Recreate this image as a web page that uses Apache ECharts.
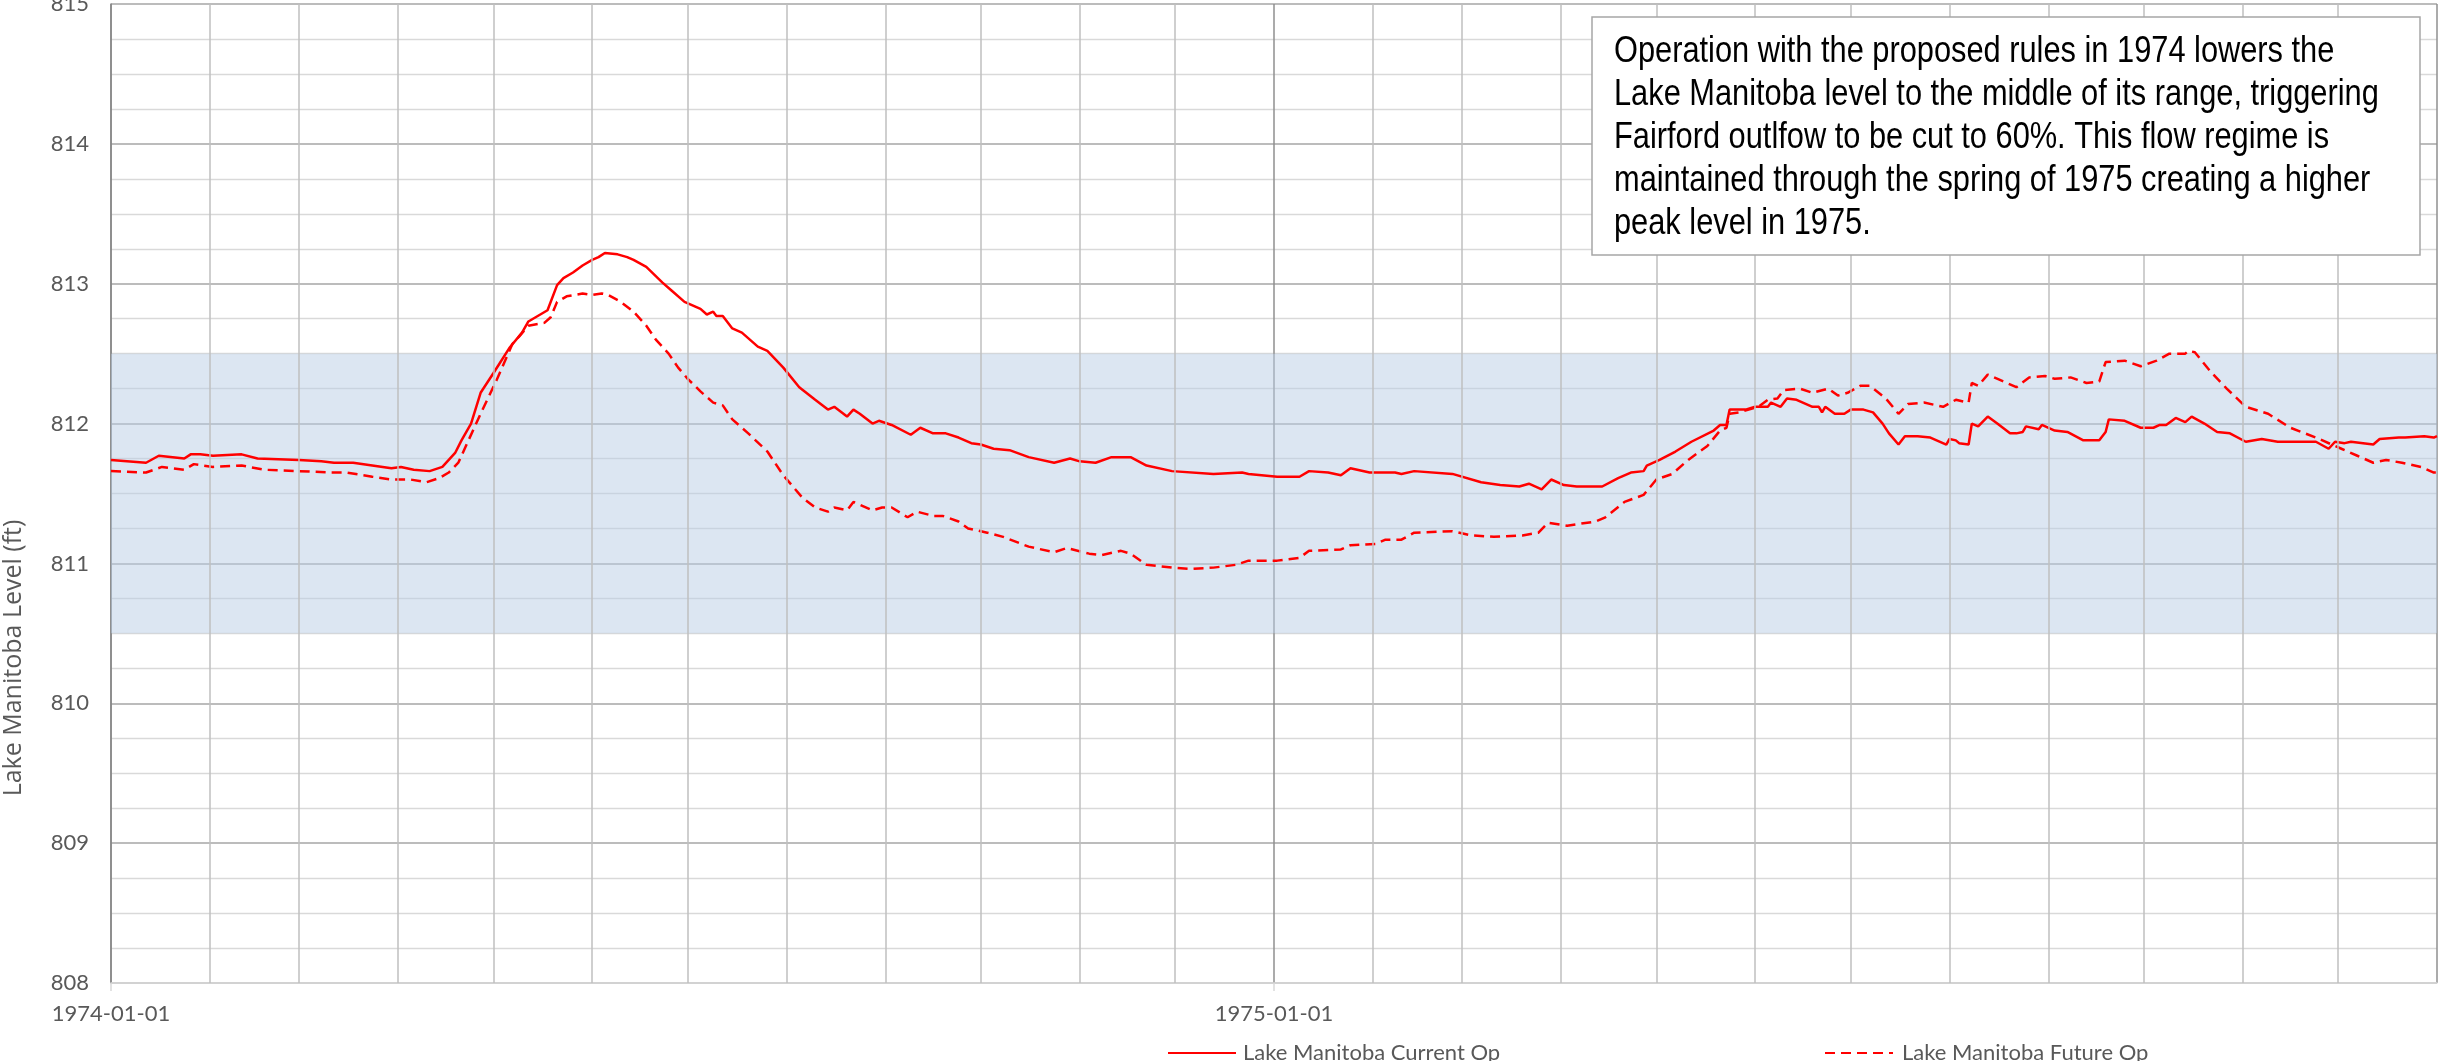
<!DOCTYPE html>
<html>
<head>
<meta charset="utf-8">
<script src="https://cdn.jsdelivr.net/npm/echarts@6/dist/echarts.min.js"></script>
<style>
html,body{margin:0;padding:0;background:#fff;}
#chart{width:2441px;height:1061px;}
</style>
</head>
<body>
<div id="chart"></div>
<script>
// ---- data (x = days since 1974-01-01) ----
const xTickLabels = ['1974-01-01', '1975-01-01', '1976-01-01'];
const monthStartDays = [31, 59, 90, 120, 151, 181, 212, 243, 273, 304, 334,
  396, 424, 455, 485, 516, 546, 577, 608, 638, 669, 699];
const bandRange = [810.5, 812.5];

const currentName = 'Lake Manitoba Current Op';
const currentDay = [0,11,15,23,25,28,32,41,46,59,66,70,76,88,91,95,100,104,108,110,113,116,120,125,129,131,137,140,142,145,148,151,153,155,159,162,164,168,173,176,180,185,187,189,190,192,195,198,203,206,211,216,221,225,227,231,233,235,239,241,245,251,254,258,262,266,270,273,277,282,288,296,301,304,309,314,320,325,333,346,355,357,366,373,376,382,386,389,395,403,405,409,421,430,436,442,445,449,452,456,460,468,473,477,481,482,486,491,496,503,505,507,508,513,516,520,521,524,526,529,534,536,537,538,541,544,546,550,553,556,558,561,563,567,571,576,577,579,580,583,584,586,589,592,596,598,600,601,605,606,610,614,619,624,626,627,632,637,641,643,645,648,651,653,657,661,665,670,675,680,692,696,698,701,703,710,712,718,720,726,729,730];
const currentLevel = [811.74,811.72,811.77,811.75,811.78,811.78,811.77,811.78,811.75,811.74,811.73,811.72,811.72,811.68,811.69,811.67,811.66,811.69,811.79,811.88,812.0,812.22,812.36,812.54,812.65,812.73,812.81,812.99,813.04,813.08,813.13,813.17,813.19,813.22,813.21,813.19,813.17,813.12,813.01,812.95,812.87,812.82,812.78,812.80,812.77,812.77,812.68,812.65,812.55,812.52,812.40,812.26,812.17,812.10,812.12,812.05,812.10,812.07,812.00,812.02,811.99,811.92,811.97,811.93,811.93,811.90,811.86,811.85,811.82,811.81,811.76,811.72,811.75,811.73,811.72,811.76,811.76,811.70,811.66,811.64,811.65,811.64,811.62,811.62,811.66,811.65,811.63,811.68,811.65,811.65,811.64,811.66,811.64,811.58,811.56,811.55,811.57,811.53,811.60,811.56,811.55,811.55,811.61,811.65,811.66,811.70,811.74,811.80,811.87,811.95,811.99,811.99,812.10,812.10,812.12,812.12,812.15,812.12,812.18,812.17,812.12,812.12,812.08,812.12,812.07,812.07,812.10,812.10,812.08,812.00,811.93,811.85,811.91,811.91,811.90,811.85,811.89,811.88,811.86,811.85,812.00,811.98,812.05,812.00,811.93,811.93,811.94,811.98,811.96,811.99,811.95,811.94,811.88,811.88,811.94,812.03,812.02,811.97,811.97,811.99,811.99,812.04,812.01,812.05,812.00,811.94,811.93,811.87,811.89,811.87,811.87,811.82,811.87,811.86,811.87,811.85,811.89,811.90,811.90,811.91,811.90,811.91];

const futureName = 'Lake Manitoba Future Op';
const futureDay = [0,11,16,23,26,32,41,48,59,69,74,82,88,94,99,103,106,109,112,116,121,126,128,131,136,138,140,143,148,151,154,156,160,164,168,171,175,178,181,185,189,192,195,200,206,211,214,217,221,225,227,231,233,239,242,245,250,253,258,261,266,269,275,280,288,296,300,307,311,317,320,325,333,339,346,353,357,366,373,376,386,389,397,400,405,409,421,427,434,443,448,451,457,466,469,475,481,485,490,495,501,505,507,508,511,517,520,523,525,530,534,539,542,545,549,552,557,561,564,569,575,579,583,584,586,589,593,598,602,607,610,615,620,624,626,632,637,642,646,651,652,654,659,664,670,677,684,692,700,705,710,714,719,725,729,730];
const futureLevel = [811.66,811.65,811.69,811.67,811.71,811.69,811.70,811.67,811.66,811.65,811.65,811.62,811.60,811.60,811.58,811.61,811.65,811.72,811.87,812.07,812.31,812.57,812.62,812.70,812.72,812.76,812.87,812.91,812.93,812.92,812.93,812.92,812.87,812.80,812.70,812.60,812.50,812.40,812.32,812.23,812.15,812.13,812.03,811.93,811.80,811.63,811.55,811.47,811.40,811.37,811.40,811.38,811.44,811.38,811.40,811.40,811.33,811.37,811.34,811.34,811.30,811.25,811.22,811.19,811.12,811.08,811.11,811.07,811.06,811.09,811.07,810.99,810.97,810.96,810.97,810.99,811.02,811.02,811.04,811.09,811.10,811.13,811.14,811.17,811.17,811.22,811.23,811.20,811.19,811.20,811.22,811.29,811.27,811.30,811.33,811.44,811.49,811.60,811.64,811.74,811.84,811.95,811.97,812.07,812.08,812.12,812.17,812.18,812.24,812.25,812.22,812.25,812.20,812.22,812.27,812.27,812.18,812.07,812.14,812.15,812.12,812.17,812.15,812.29,812.27,812.35,812.31,812.26,812.33,812.34,812.32,812.33,812.29,812.30,812.44,812.45,812.41,812.45,812.50,812.50,812.52,812.51,812.37,812.25,812.12,812.07,811.97,811.90,811.82,811.77,811.72,811.74,811.72,811.69,811.65,811.65];

const annotationLines = [
  'Operation with the proposed rules in 1974 lowers the',
  'Lake Manitoba level to the middle of its range, triggering',
  'Fairford outlfow to be cut to 60%. This flow regime is',
  'maintained through the spring of 1975 creating a higher',
  'peak level in 1975.'
];
const yAxisTitle = 'Lake Manitoba Level (ft)';

// ---- chart ----
const pair = (xs, ys) => xs.map((x, i) => [x, ys[i]]);
const txt = { fontFamily: 'Lato, "Liberation Sans", sans-serif', fontSize: 22, color: '#595959' };

const chart = echarts.init(document.getElementById('chart'), null, { renderer: 'canvas' });
chart.setOption({
  animation: false,
  backgroundColor: '#ffffff',
  grid: { left: 111, right: 4, top: 4, bottom: 78, containLabel: false, outerBoundsMode: 'none' },
  xAxis: {
    type: 'value', min: 0, max: 730, interval: 365,
    axisLine: { show: true, lineStyle: { color: '#d9d9d9', width: 1.5 } },
    axisTick: { show: true, length: 8, lineStyle: { color: '#d9d9d9', width: 1.5 } },
    axisLabel: {
      ...txt, margin: 20, showMaxLabel: false,
      formatter: v => xTickLabels[Math.round(v / 365)] || ''
    },
    splitLine: { show: true, lineStyle: { color: '#8f8f8f', width: 1.5 } }
  },
  yAxis: {
    type: 'value', min: 808, max: 815, interval: 1, splitNumber: 4,
    axisLine: { show: true, lineStyle: { color: '#868686', width: 1.5 } },
    axisTick: { show: false },
    axisLabel: { ...txt, margin: 22 },
    splitLine: { show: true, lineStyle: { color: '#a6a6a6', width: 1.5 } },
    minorTick: { show: false, splitNumber: 4 },
    minorSplitLine: { show: true, lineStyle: { color: '#d9d9d9', width: 1.3 } }
  },
  legend: [
    { data: [currentName], left: 1162, top: 1037, itemWidth: 68, itemHeight: 14, itemGap: 7,
      itemStyle: { opacity: 0 }, textStyle: { ...txt, padding: [0, 0, 0, 2] } },
    { data: [futureName], left: 1819, top: 1037, itemWidth: 68, itemHeight: 14, itemGap: 7,
      itemStyle: { opacity: 0 }, textStyle: { ...txt, padding: [0, 0, 0, 4] } }
  ],
  graphic: [
    { type: 'rect', z: 100, shape: { x: 1592, y: 17, width: 828, height: 238 },
      style: { fill: '#ffffff', stroke: '#a6a6a6', lineWidth: 1.5 } },
    { type: 'text', z: 101, x: 1614, y: 31, scaleX: 0.855,
      style: { text: annotationLines.join('\n'), fill: '#000000', lineHeight: 43,
        font: '36px "Liberation Sans", Arial, sans-serif' } },
    { type: 'text', z: 101, x: 14, y: 658, rotation: Math.PI / 2,
      style: { text: yAxisTitle, fill: '#595959', align: 'center', verticalAlign: 'middle',
        font: '25px "Open Sans", sans-serif' } }
  ],
  series: [
    {
      name: 'background', type: 'line', data: [], z: 1, silent: true,
      markArea: { silent: true, itemStyle: { color: 'rgba(185,205,229,0.5)' },
        data: [[{ yAxis: bandRange[0] }, { yAxis: bandRange[1] }]] },
      markLine: { silent: true, symbol: ['none', 'none'], label: { show: false },
        lineStyle: { color: '#bfbfbf', width: 1.5, type: 'solid' },
        data: monthStartDays.map(d => ({ xAxis: d })) }
    },
    {
      name: currentName, type: 'line', z: 3, symbol: 'none', smooth: false,
      data: pair(currentDay, currentLevel),
      lineStyle: { color: '#ff0000', width: 2.5, type: 'solid' },
      itemStyle: { color: '#ff0000', opacity: 0 }
    },
    {
      name: futureName, type: 'line', z: 3, symbol: 'none', smooth: false,
      data: pair(futureDay, futureLevel),
      lineStyle: { color: '#ff0000', width: 2.5, type: [10, 6] },
      itemStyle: { color: '#ff0000', opacity: 0 }
    }
  ]
});
</script>
</body>
</html>
